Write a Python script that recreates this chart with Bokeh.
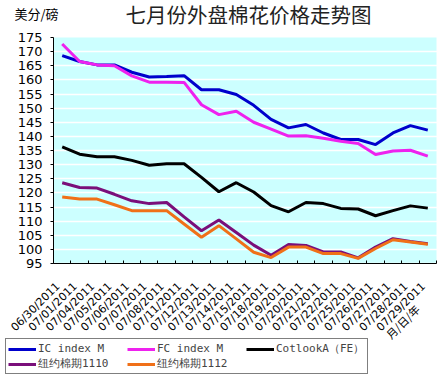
import math
from bokeh.plotting import figure
from bokeh.models import (Range1d, FixedTicker, Legend, LegendItem, Label, BoxAnnotation)
from bokeh.embed import file_html
from bokeh.resources import INLINE

dates = ["06/30/2011", "07/01/2011", "07/04/2011", "07/05/2011", "07/06/2011",
         "07/07/2011", "07/08/2011", "07/11/2011", "07/12/2011", "07/13/2011",
         "07/14/2011", "07/15/2011", "07/18/2011", "07/19/2011", "07/20/2011",
         "07/21/2011", "07/22/2011", "07/25/2011", "07/26/2011", "07/27/2011",
         "07/28/2011", "07/29/2011"]

ic_index = [168.6, 166.5, 165.3, 165.3, 162.7, 161.0, 161.2, 161.5, 156.5, 156.5, 154.8,
            151.0, 146.0, 143.0, 144.2, 141.2, 138.9, 138.9, 137.1, 141.2, 143.8, 142.2]
fc_index = [172.7, 166.5, 165.3, 165.0, 161.4, 159.2, 159.2, 159.1, 151.2, 147.7, 148.9,
            145.0, 142.6, 140.1, 140.2, 139.3, 138.3, 137.5, 133.6, 134.8, 135.1, 133.0]
cotlook = [136.3, 133.7, 132.8, 132.8, 131.5, 129.8, 130.3, 130.3, 125.5, 120.4, 123.6,
           120.3, 115.5, 113.3, 116.6, 116.2, 114.5, 114.3, 111.9, 113.7, 115.4, 114.6]
ny_1110 = [123.6, 121.9, 121.7, 119.5, 117.2, 116.2, 116.6, 111.5, 106.6, 110.4, 106.0,
           101.5, 97.9, 101.7, 101.4, 99.1, 99.1, 97.0, 100.8, 103.8, 102.8, 102.0]
ny_1112 = [118.5, 117.8, 117.8, 115.8, 113.7, 113.7, 113.7, 109.0, 104.3, 108.4, 103.7,
           99.0, 97.1, 100.8, 100.8, 98.5, 98.5, 96.8, 100.3, 103.4, 102.6, 101.8]

series_names = ["IC index M", "FC index M", "CotlookA（FE）", "纽约棉期1110", "纽约棉期1112"]
series_colors = ["#0000CC", "#EE22EE", "#000000", "#7A0F7A", "#F07018"]
y_min, y_max = 95, 175
y_ticks = list(range(y_min, y_max + 1, 5))

title_text = "七月份外盘棉花价格走势图"
unit_text = "美分/磅"
xaxis_title = "月/日/年"

# ---- layout: the frame fills the whole canvas; the plot area sits inside it ----
W, H = 441, 377
AREA_L, AREA_R, AREA_T, AREA_B = 53, 436, 37, 263
n = len(dates)
x_lo, x_hi = -0.5, n - 0.5
px_x = (AREA_R - AREA_L) / (x_hi - x_lo)
px_y = (AREA_B - AREA_T) / (y_max - y_min)
LABEL_SHIFT = 0.25   # date labels sit slightly left of the category centre


def dx(px):
    return x_lo + (px - AREA_L) / px_x


def dy(py):
    return y_max - (py - AREA_T) / px_y


p = figure(width=W, height=H, output_backend="svg", toolbar_location=None,
           x_range=Range1d(dx(0), dx(W)), y_range=Range1d(dy(H), dy(0)),
           min_border=0, min_border_left=0, min_border_right=0,
           min_border_top=0, min_border_bottom=0)
p.title.visible = False
p.background_fill_color = "white"
p.border_fill_color = "white"
p.outline_line_color = None

p.add_layout(BoxAnnotation(left=x_lo, right=x_hi, bottom=y_min, top=y_max,
                           fill_color="#CCFFFF", fill_alpha=1, line_color=None,
                           level="image"))

p.xgrid.visible = False
p.ygrid.ticker = FixedTicker(ticks=y_ticks[:-1])
p.ygrid.grid_line_color = "white"
p.ygrid.grid_line_width = 1.5

ya = p.yaxis[0]
ya.fixed_location = x_lo
ya.bounds = (y_min, y_max)
ya.ticker = FixedTicker(ticks=y_ticks)
ya.major_tick_out = 3
ya.major_tick_in = 0
ya.minor_tick_out = 0
ya.minor_tick_in = 0
ya.axis_line_color = "black"
ya.major_label_standoff = 8
ya.major_label_text_font = "DejaVu Sans"
ya.major_label_text_font_size = "13px"
ya.major_label_text_color = "black"

xs = list(range(n))
label_pos = [round(i - LABEL_SHIFT, 2) for i in xs]
xa = p.xaxis[0]
xa.fixed_location = y_min
xa.bounds = (x_lo, x_hi)
xa.ticker = FixedTicker(ticks=label_pos, minor_ticks=[i - 0.5 for i in range(n + 1)])
xa.major_label_overrides = {t: d for t, d in zip(label_pos, dates)}
xa.major_tick_in = 0
xa.major_tick_out = 0
xa.minor_tick_in = 3
xa.minor_tick_out = 0
xa.axis_line_color = "black"
xa.major_label_orientation = math.pi / 4
xa.major_label_standoff = 21
xa.major_label_text_font = "DejaVu Sans"
xa.major_label_text_font_size = "11px"
xa.major_label_text_color = "black"

renderers = []
for vals, col in zip([ic_index, fc_index, cotlook, ny_1110, ny_1112], series_colors):
    renderers.append(p.line(xs, vals, line_color=col, line_width=3))

items = [LegendItem(label=nm, renderers=[r]) for nm, r in zip(series_names, renderers)]
legend = Legend(items=items, ncols=3, orientation="horizontal", location=(5, 3),
                glyph_width=28, glyph_height=12, label_height=12, label_width=89,
                label_standoff=2, spacing=0, padding=2, margin=0,
                label_text_font="DejaVu Sans Mono",
                label_text_font_size="11px",
                border_line_color="black", border_line_width=1,
                background_fill_color="white", background_fill_alpha=1)
p.add_layout(legend)

p.add_layout(Label(x=dx(248), y=dy(13), text=title_text, text_align="center",
                   text_baseline="middle", text_font="Noto Sans CJK SC",
                   text_font_size="20.5px", text_color="#222222"))
p.add_layout(Label(x=dx(14), y=dy(13), text=unit_text, text_align="left",
                   text_baseline="middle", text_font="Noto Sans CJK SC",
                   text_font_size="13px", text_color="black"))
p.add_layout(Label(x=dx(402), y=dy(321), text=xaxis_title, text_align="center",
                   text_baseline="middle", angle=math.pi / 4,
                   text_font="Noto Sans CJK SC", text_font_size="11px",
                   text_color="black"))

open("out.html", "w").write(file_html(p, INLINE))
